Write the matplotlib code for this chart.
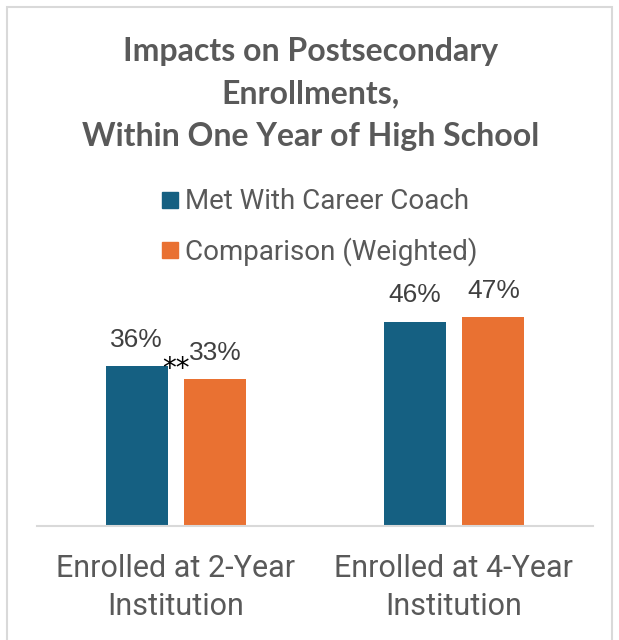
import matplotlib
matplotlib.use('Agg')
import matplotlib.pyplot as plt
from matplotlib.patches import Rectangle
from matplotlib.lines import Line2D
import numpy as np

# data
categories = ['Enrolled at 2-Year\nInstitution', 'Enrolled at 4-Year\nInstitution']
series_names = ['Met With Career Coach', 'Comparison (Weighted)']
coach_values = [36, 46]
comparison_values = [33, 47]
significance = ['**', '']

title = 'Impacts on Postsecondary\nEnrollments,\nWithin One Year of High School'

blue = '#156082'
orange = '#E97132'
text_gray = '#595959'
label_gray = '#404040'
grid_gray = '#D9D9D9'

W, H = 619, 640
fig = plt.figure(figsize=(W / 100, H / 100), dpi=100)

# outer chart border
fig.patches.append(Rectangle((7 / W, -0.05), 605 / W, 1.05 - 7 / H,
                             transform=fig.transFigure, fill=False,
                             edgecolor=grid_gray, linewidth=1.5))

ax = fig.add_axes([37 / W, 114 / H, 556 / W, 222 / H])
x = np.arange(len(categories))
width = 0.223
offset = 0.142

bars1 = ax.bar(x - offset, coach_values, width, color=blue)
bars2 = ax.bar(x + offset, comparison_values, width, color=orange)

for bars in (bars1, bars2):
    for b in bars:
        ax.text(b.get_x() + b.get_width() / 2, b.get_height() + 3.3,
                '{:.0f}%'.format(b.get_height()), ha='center', va='bottom',
                fontsize=19, color=label_gray, family='Liberation Sans')

for i, mark in enumerate(significance):
    if mark:
        ax.text(x[i], coach_values[i] - 0.6, mark, ha='center', va='center',
                fontsize=20, color='black', family='DejaVu Sans')

ax.set_xlim(-0.5, 1.5)
ax.set_ylim(0, 50)
ax.set_yticks([])
ax.set_xticks(x)
ax.set_xticklabels(categories, fontsize=22, color=text_gray,
                   family='Roboto', linespacing=1.42)
ax.tick_params(axis='x', length=0, pad=20)
for side in ['left', 'right', 'top']:
    ax.spines[side].set_visible(False)
ax.spines['bottom'].set_color(grid_gray)
ax.spines['bottom'].set_linewidth(1.5)

fig.text(0.5 * (W + 3) / W, 1 - 94 / H, title, ha='center', va='center',
         fontsize=23, fontweight='bold', color=text_gray, family='Lato',
         linespacing=1.58)

handles = [Line2D([], [], marker='s', linestyle='', markersize=12, color=c)
           for c in (blue, orange)]
leg = fig.legend(handles, series_names, loc='center',
                 bbox_to_anchor=(318 / W, 1 - 227 / H), frameon=False,
                 prop={'family': 'Roboto', 'size': 20}, labelspacing=0.78,
                 handletextpad=0.15, handlelength=0.8)
for t in leg.get_texts():
    t.set_color(text_gray)

fig.savefig('out.png', dpi=100)
